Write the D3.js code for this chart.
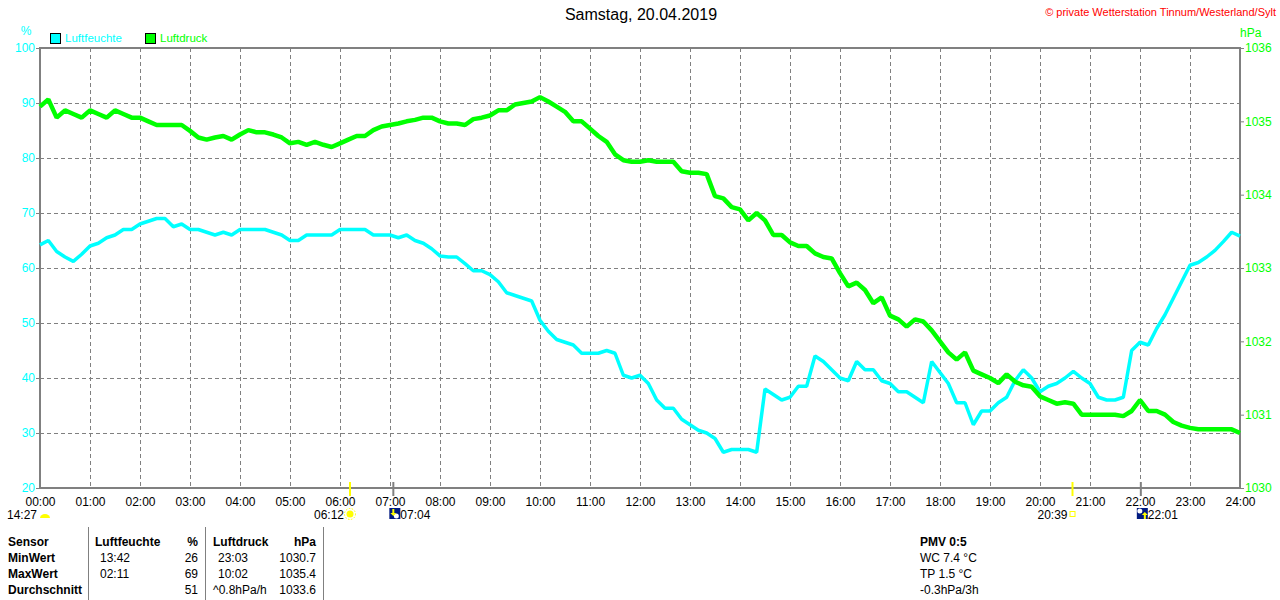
<!DOCTYPE html>
<html>
<head>
<meta charset="utf-8">
<script src="https://cdn.jsdelivr.net/npm/d3@7"></script>
<style>
  body { margin: 0; background: #fff; }
  svg text { font-family: "Liberation Sans", Arial, sans-serif; }
</style>
</head>
<body>
<div id="chart"></div>
<script>
// readings every 10 minutes, 00:00 .. 24:00
var hourLabels = ["00:00","01:00","02:00","03:00","04:00","05:00","06:00","07:00","08:00","09:00","10:00","11:00",
                  "12:00","13:00","14:00","15:00","16:00","17:00","18:00","19:00","20:00","21:00","22:00","23:00","24:00"];
var humTicks = [100, 90, 80, 70, 60, 50, 40, 30, 20];
var presTicks = [1036, 1035, 1034, 1033, 1032, 1031, 1030];

var luftfeuchte = [
  64.2,65,63,62,61.2,62.5,64,64.5,65.5,66,67,67,
  68,68.5,69,69,67.5,68,67,67,66.5,66,66.5,66,
  67,67,67,67,66.5,66,65,65,66,66,66,66,
  67,67,67,67,66,66,66,65.5,66,65,64.5,63.5,
  62.2,62,62,60.8,59.5,59.5,58.8,57.5,55.5,55,54.5,54,
  50.5,48.5,47,46.5,46,44.5,44.5,44.5,45,44.5,40.5,40,
  40.5,39,36,34.5,34.5,32.5,31.5,30.5,30,29,26.5,27,
  27,27,26.5,38,37,36,36.5,38.5,38.5,44,43,41.5,
  40,39.5,43,41.5,41.5,39.5,39,37.5,37.5,36.5,35.5,43,
  41,39,35.5,35.5,31.5,34,34,35.5,36.5,39.5,41.5,40,
  37.5,38.5,39,40,41.2,40,39,36.5,36,36,36.5,45,
  46.5,46,49,51.5,54.5,57.5,60.5,61,62,63.2,64.8,66.5,
  65.8
];
var luftdruck = [
  1035.2,1035.3,1035.05,1035.15,1035.1,1035.05,1035.15,1035.1,1035.05,1035.15,1035.1,1035.05,
  1035.05,1035.0,1034.95,1034.95,1034.95,1034.95,1034.87,1034.78,1034.75,1034.78,1034.8,1034.75,
  1034.82,1034.88,1034.85,1034.85,1034.82,1034.78,1034.7,1034.72,1034.68,1034.72,1034.68,1034.65,
  1034.7,1034.75,1034.8,1034.8,1034.88,1034.93,1034.95,1034.97,1035.0,1035.02,1035.05,1035.05,
  1035.0,1034.97,1034.97,1034.95,1035.03,1035.05,1035.08,1035.15,1035.15,1035.23,1035.25,1035.27,
  1035.33,1035.27,1035.2,1035.13,1035.0,1035.0,1034.9,1034.8,1034.72,1034.55,1034.47,1034.45,
  1034.45,1034.47,1034.45,1034.45,1034.45,1034.32,1034.3,1034.3,1034.28,1033.98,1033.95,1033.83,
  1033.8,1033.65,1033.75,1033.65,1033.45,1033.45,1033.35,1033.3,1033.3,1033.2,1033.15,1033.13,
  1032.93,1032.75,1032.8,1032.7,1032.52,1032.6,1032.35,1032.3,1032.2,1032.3,1032.27,1032.15,
  1032.0,1031.85,1031.75,1031.85,1031.6,1031.55,1031.5,1031.43,1031.55,1031.45,1031.4,1031.38,
  1031.25,1031.2,1031.15,1031.17,1031.15,1031.0,1031.0,1031.0,1031.0,1031.0,1030.98,1031.05,
  1031.2,1031.05,1031.05,1031.0,1030.9,1030.85,1030.82,1030.8,1030.8,1030.8,1030.8,1030.8,
  1030.75
];
var minutes = d3.range(0, 1441, 10);

// sun / moon events under the axis
var sunrise = "06:12", sunset = "20:39", moonrise = "22:01", moonset = "07:04", dayLength = "14:27";

// statistics table
var tableHeader = ["Sensor", "Luftfeuchte", "%", "Luftdruck", "hPa"];
var rowNames = ["MinWert", "MaxWert", "Durchschnitt"];
var humTimes = ["13:42", "02:11", ""];
var humValues = ["26", "69", "51"];
var presTimes = ["23:03", "10:02", "^0.8hPa/h"];
var presValues = ["1030.7", "1035.4", "1033.6"];
var pmvLines = ["PMV 0:5", "WC 7.4 °C", "TP 1.5 °C", "-0.3hPa/3h"];

var W = 1280, H = 600;
var margin = {top: 48, left: 40, right: 40, bottom: 112};
var width = W - margin.left - margin.right,
    height = H - margin.top - margin.bottom;

var svg = d3.select("#chart").append("svg")
    .attr("width", W).attr("height", H);

var x = d3.scaleLinear().domain([0, 1440]).range([margin.left, margin.left + width]);
var yH = d3.scaleLinear().domain([20, 100]).range([margin.top + height, margin.top]);
var yP = d3.scaleLinear().domain([1030, 1036]).range([margin.top + height, margin.top]);

function toMin(s) { var p = s.split(":"); return +p[0] * 60 + +p[1]; }

var CYAN = "#00ffff", GREEN = "#00ff00", GRAY = "#808080";

// title + copyright
svg.append("text").attr("x", 641).attr("y", 20).attr("text-anchor", "middle")
    .style("font-size", "16px").attr("fill", "#000").text("Samstag, 20.04.2019");
svg.append("text").attr("x", 1276).attr("y", 16).attr("text-anchor", "end")
    .style("font-size", "11px").attr("fill", "#ff0000").text("© private Wetterstation Tinnum/Westerland/Sylt");

// units + legend
svg.append("text").attr("x", 26).attr("y", 35).attr("text-anchor", "middle")
    .style("font-size", "12px").attr("fill", CYAN).text("%");
svg.append("text").attr("x", 1240).attr("y", 37)
    .style("font-size", "12px").attr("fill", GREEN).text("hPa");
var legend = [{name: "Luftfeuchte", color: CYAN, x: 50}, {name: "Luftdruck", color: GREEN, x: 145}];
legend.forEach(function(d) {
  svg.append("rect").attr("x", d.x + 0.5).attr("y", 33.5).attr("width", 10).attr("height", 10)
      .attr("fill", d.color).attr("stroke", "#000");
  svg.append("text").attr("x", d.x + 15).attr("y", 42)
      .style("font-size", "11.5px").attr("fill", d.color).text(d.name);
});

// grid
var grid = svg.append("g").attr("stroke", GRAY).attr("stroke-dasharray", "4,3").attr("stroke-width", 1);
grid.selectAll(".v").data(d3.range(1, 24)).enter().append("line")
    .attr("x1", d => Math.round(x(d * 60)) + 0.5).attr("x2", d => Math.round(x(d * 60)) + 0.5)
    .attr("y1", margin.top).attr("y2", margin.top + height);
grid.selectAll(".h").data(humTicks.slice(1, -1)).enter().append("line")
    .attr("x1", margin.left).attr("x2", margin.left + width)
    .attr("y1", d => Math.round(yH(d)) + 0.5).attr("y2", d => Math.round(yH(d)) + 0.5);

// axes
var axL = svg.append("g").attr("transform", "translate(" + margin.left + ",0)")
    .call(d3.axisLeft(yH).tickValues(humTicks).tickFormat(d3.format("d")).tickSize(4).tickPadding(1));
axL.selectAll("text").attr("fill", CYAN).style("font-size", "12px");
var axR = svg.append("g").attr("transform", "translate(" + (margin.left + width) + ",0)")
    .call(d3.axisRight(yP).tickValues(presTicks).tickFormat(d3.format("d")).tickSize(4).tickPadding(1));
axR.selectAll("text").attr("fill", GREEN).style("font-size", "12px");
[axL, axR].forEach(function(a) {
  a.select(".domain").remove();
  a.selectAll("line").attr("stroke", GRAY);
});
var axB = svg.append("g").attr("transform", "translate(0," + (margin.top + height) + ")")
    .call(d3.axisBottom(x).tickValues(d3.range(0, 1441, 60)).tickFormat((d, i) => hourLabels[i]).tickSize(0).tickPadding(9));
axB.select(".domain").remove();
axB.selectAll("text").attr("fill", "#000").style("font-size", "12px");

// frame
svg.append("path")
    .attr("d", "M" + margin.left + "," + (margin.top + height) + "V" + margin.top + "H" + (margin.left + width) + "V" + (margin.top + height) + "Z")
    .attr("fill", "none").attr("stroke", GRAY).attr("stroke-width", 2);

// series
var lineH = d3.line().x((d, i) => x(minutes[i])).y(d => yH(d));
var lineP = d3.line().x((d, i) => x(minutes[i])).y(d => yP(d));
svg.append("path").datum(luftfeuchte).attr("d", lineH)
    .attr("fill", "none").attr("stroke", CYAN).attr("stroke-width", 3.5).attr("stroke-linejoin", "bevel");
svg.append("path").datum(luftdruck).attr("d", lineP)
    .attr("fill", "none").attr("stroke", GREEN).attr("stroke-width", 4.5).attr("stroke-linejoin", "bevel");

// sun / moon markers
var yb = margin.top + height;
[sunrise, sunset].forEach(function(t) {
  svg.append("line").attr("x1", x(toMin(t))).attr("x2", x(toMin(t))).attr("y1", yb - 6).attr("y2", yb + 8)
      .attr("stroke", "#ffff00").attr("stroke-width", 2);
});
[moonset, moonrise].forEach(function(t) {
  svg.append("line").attr("x1", x(toMin(t))).attr("x2", x(toMin(t))).attr("y1", yb - 6).attr("y2", yb + 8)
      .attr("stroke", GRAY).attr("stroke-width", 2);
});
var ev = svg.append("g").style("font-size", "12px").attr("fill", "#000");
// day length
ev.append("text").attr("x", 37).attr("y", 519).attr("text-anchor", "end").text(dayLength);
ev.append("path").attr("d", "M40,518 A5,4 0 0,1 50,518 Z").attr("fill", "#ffff00");
// sunrise
var sx = x(toMin(sunrise));
ev.append("text").attr("x", sx - 6).attr("y", 519).attr("text-anchor", "end").text(sunrise);
ev.append("circle").attr("cx", sx).attr("cy", 514).attr("r", 3.5).attr("fill", "#ffff00");
ev.append("circle").attr("cx", sx).attr("cy", 514).attr("r", 5.5).attr("fill", "none")
    .attr("stroke", "#ffff00").attr("stroke-dasharray", "1.5,1.5");
// sunset
var ssx = x(toMin(sunset));
ev.append("text").attr("x", ssx - 5).attr("y", 519).attr("text-anchor", "end").text(sunset);
ev.append("rect").attr("x", ssx - 2.5).attr("y", 511.5).attr("width", 5).attr("height", 5)
    .attr("fill", "none").attr("stroke", "#ffff00");
// moonset / moonrise icons
[{t: moonset, up: false}, {t: moonrise, up: true}].forEach(function(m) {
  var mx = x(toMin(m.t)) - 4;
  var g = ev.append("g").attr("transform", "translate(" + mx + ",508)");
  g.append("rect").attr("width", 11).attr("height", 11).attr("fill", "#001a80");
  g.append("circle").attr("cx", m.up ? 3 : 7).attr("cy", m.up ? 3 : 8).attr("r", 2.5).attr("fill", "#fff");
  g.append("path").attr("d", m.up ? "M6,4 L9,7 L7,7 L7,11 L5,11 L5,7 L3,7Z" : "M4,1 L6,1 L6,5 L8,5 L5,8 L2,5 L4,5Z")
      .attr("fill", "#ffff00").attr("transform", m.up ? "translate(2,0)" : "translate(-1,0)");
  ev.append("text").attr("x", mx + 11).attr("y", 519).text(m.t);
});

// statistics table
var tb = svg.append("g").style("font-size", "12px").attr("fill", "#000");
[88, 205, 323].forEach(function(xx) {
  tb.append("line").attr("x1", xx + 0.5).attr("x2", xx + 0.5).attr("y1", 527).attr("y2", 600)
      .attr("stroke", GRAY).attr("stroke-width", 1);
});
var rowY = [546, 562, 578, 594];
var colX = [8, 95, 198, 213, 316];
var anchors = ["start", "start", "end", "start", "end"];
tableHeader.forEach(function(h, i) {
  tb.append("text").attr("x", colX[i]).attr("y", rowY[0]).attr("text-anchor", anchors[i])
      .style("font-weight", "bold").text(h);
});
rowNames.forEach(function(r, i) {
  var yy = rowY[i + 1];
  tb.append("text").attr("x", 8).attr("y", yy).style("font-weight", "bold").text(r);
  tb.append("text").attr("x", 100).attr("y", yy).text(humTimes[i]);
  tb.append("text").attr("x", 198).attr("y", yy).attr("text-anchor", "end").text(humValues[i]);
  tb.append("text").attr("x", presTimes[i].charAt(0) === "^" ? 213 : 218).attr("y", yy).text(presTimes[i]);
  tb.append("text").attr("x", 316).attr("y", yy).attr("text-anchor", "end").text(presValues[i]);
});
pmvLines.forEach(function(s, i) {
  tb.append("text").attr("x", 920).attr("y", rowY[i]).style("font-weight", i === 0 ? "bold" : "normal").text(s);
});
</script>
</body>
</html>
